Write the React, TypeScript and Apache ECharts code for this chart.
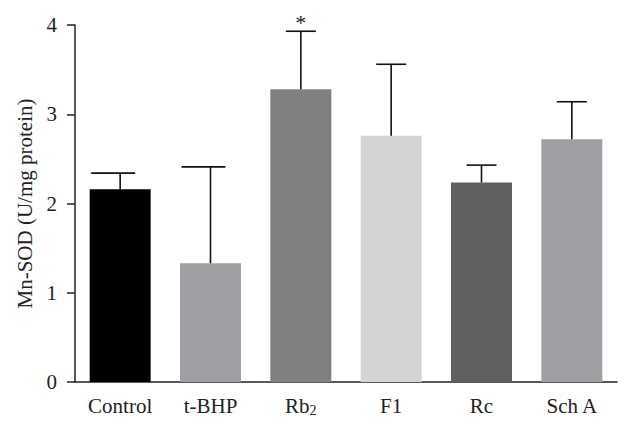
import React, { useEffect, useRef } from "react";
import * as echarts from "echarts";

const categories = ["Control", "t-BHP", "Rb2", "F1", "Rc", "Sch A"];
const means = [2.16, 1.33, 3.28, 2.76, 2.235, 2.72];
const errors = [0.18, 1.08, 0.65, 0.8, 0.195, 0.42];
const marks = ["", "", "*", "", "", ""];
const yTicks = [0, 1, 2, 3, 4];

const barColors = ["#000000", "#a0a0a4", "#808080", "#d4d4d4", "#606060", "#a0a0a4"];
const FONT = "Liberation Serif";
const TXT = "#222222";

export default function App() {
  const ref = useRef<HTMLDivElement>(null);
  useEffect(() => {
    if (!ref.current) return;
    const chart = echarts.init(ref.current, null, { renderer: "svg" });
    const option: any = {
      animation: false,
      backgroundColor: "#ffffff",
      grid: { left: 75, right: 15, top: 25, bottom: 51, containLabel: false },
      xAxis: {
        type: "category",
        data: categories,
        axisLine: { lineStyle: { color: TXT, width: 1.5 } },
        axisTick: { alignWithLabel: true, interval: 0, length: 8, lineStyle: { color: TXT, width: 1.5 } },
        axisLabel: {
          interval: 0,
          hideOverlap: false,
          margin: 13,
          color: TXT,
          fontFamily: FONT,
          formatter: (v: string) => (v === "Rb2" ? "{n|Rb}{sub|2}" : "{n|" + v + "}"),
          rich: {
            n: { fontSize: 21, lineHeight: 22, verticalAlign: "top", fontFamily: FONT, color: TXT },
            sub: { fontSize: 14, lineHeight: 14, verticalAlign: "bottom", padding: [11, 0, 0, 0], fontFamily: FONT, color: TXT },
          },
        },
      },
      yAxis: {
        type: "value",
        min: yTicks[0],
        max: yTicks[yTicks.length - 1],
        interval: 1,
        name: "Mn-SOD (U/mg protein)",
        nameLocation: "middle",
        nameGap: 40,
        nameTextStyle: { fontSize: 21, fontFamily: FONT, color: TXT },
        axisLine: { show: true, lineStyle: { color: TXT, width: 1.5 } },
        axisTick: { show: true, length: 8, lineStyle: { color: TXT, width: 1.5 } },
        axisLabel: { fontSize: 21, fontFamily: FONT, color: TXT, margin: 18 },
        splitLine: { show: false },
      },
      series: [
        {
          type: "bar",
          barWidth: 61,
          data: means.map((v, i) => ({ value: v, itemStyle: { color: barColors[i] } })),
          z: 2,
        },
        {
          type: "custom",
          z: 3,
          data: means.map((m, i) => [i, m, m + errors[i], marks[i]]),
          renderItem: (params: any, api: any) => {
            const idx = api.value(0);
            const base = api.coord([idx, api.value(1)]);
            const top = api.coord([idx, api.value(2)]);
            const leftExt = idx < 2 ? 29 : 15;
            const rightExt = 15;
            const children: any[] = [
              {
                type: "line",
                shape: { x1: base[0], y1: base[1], x2: top[0], y2: top[1] },
                style: { stroke: "#111", lineWidth: 1.6 },
              },
              {
                type: "line",
                shape: { x1: top[0] - leftExt, y1: top[1], x2: top[0] + rightExt, y2: top[1] },
                style: { stroke: "#111", lineWidth: 1.6 },
              },
            ];
            const mk = marks[params.dataIndex];
            if (mk) {
              children.push({
                type: "text",
                x: top[0],
                y: top[1] - 9,
                style: {
                  text: mk,
                  fontSize: 22,
                  fontFamily: FONT,
                  fill: TXT,
                  align: "center",
                  verticalAlign: "middle",
                },
              });
            }
            return { type: "group", children };
          },
        },
      ],
    };
    chart.setOption(option);
    return () => chart.dispose();
  }, []);
  return (
    <div
      ref={ref}
      style={{ position: "fixed", left: 0, top: 0, width: 632, height: 433, background: "#fff" }}
    />
  );
}
